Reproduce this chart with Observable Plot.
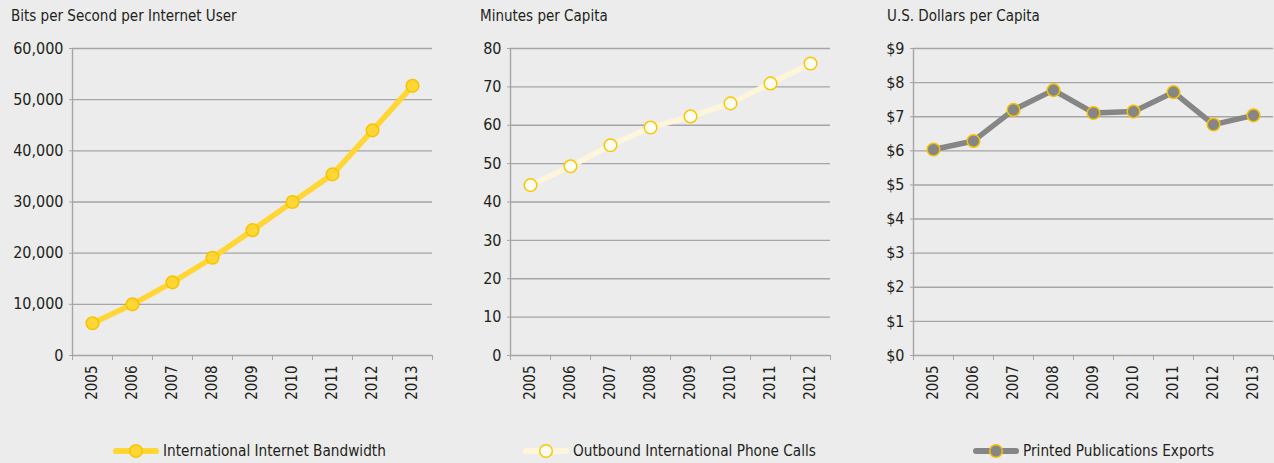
<!DOCTYPE html>
<html>
<head>
<meta charset="utf-8">
<script src="https://cdn.jsdelivr.net/npm/d3@7"></script>
<script src="https://cdn.jsdelivr.net/npm/@observablehq/plot@0.6"></script>
<style>
  html, body { margin: 0; padding: 0; background: #ebeceb; }
  body { width: 1274px; height: 463px; position: relative; overflow: hidden;
         font-family: "DejaVu Sans Condensed", "DejaVu Sans", sans-serif; color: #231f20; }
  .panel { position: absolute; top: 0; }
  .title { position: absolute; top: 7px; font-size: 15px; white-space: nowrap; }
  .legend { position: absolute; top: 440px; display: flex; align-items: center; font-size: 15.2px; white-space: nowrap; }
  .legend svg { margin-right: 4px; }
</style>
</head>
<body>
<script>
// ---- data ----
const yearsA = [2005, 2006, 2007, 2008, 2009, 2010, 2011, 2012, 2013];
const bandwidth = [6300, 10000, 14300, 19100, 24500, 30000, 35400, 44000, 52700];
const bandwidthTicks = [0, 10000, 20000, 30000, 40000, 50000, 60000];

const yearsB = [2005, 2006, 2007, 2008, 2009, 2010, 2011, 2012];
const phoneCalls = [44.4, 49.3, 54.8, 59.4, 62.3, 65.7, 70.9, 76.1];
const phoneTicks = [0, 10, 20, 30, 40, 50, 60, 70, 80];

const yearsC = [2005, 2006, 2007, 2008, 2009, 2010, 2011, 2012, 2013];
const printExports = [6.04, 6.29, 7.20, 7.78, 7.11, 7.15, 7.72, 6.77, 7.04];
const exportTicks = [0, 1, 2, 3, 4, 5, 6, 7, 8, 9];

const titles = ["Bits per Second per Internet User", "Minutes per Capita", "U.S. Dollars per Capita"];
const seriesNames = ["International Internet Bandwidth", "Outbound International Phone Calls", "Printed Publications Exports"];

const GRID = "#a5a5a5";
const TEXT = "#231f20";

function panel({left, width, marginLeft, years, values, yTicks, yFormat, lineColor, dotFill, dotStroke}) {
  const data = years.map((y, i) => ({year: y, value: values[i]}));
  const bounds = d3.range(years.length + 1).map(i => years[0] - 0.5 + i);
  const chart = Plot.plot({
    width, height: 410,
    marginLeft, marginRight: width - marginLeft - years.length * 40,
    marginTop: 48, marginBottom: 55,
    style: {background: "transparent", fontFamily: "'DejaVu Sans Condensed', 'DejaVu Sans', sans-serif", color: TEXT, overflow: "visible"},
    x: {type: "linear", domain: [bounds[0], bounds[bounds.length - 1]]},
    y: {domain: [yTicks[0], yTicks[yTicks.length - 1]]},
    marks: [
      Plot.ruleY(yTicks, {stroke: GRID, strokeWidth: 1.4}),
      Plot.ruleX([bounds[0]], {stroke: GRID, strokeWidth: 1.4}),
      Plot.axisY(yTicks, {tickSize: 3, tickPadding: 6, stroke: GRID, fill: TEXT, fontSize: 16, tickFormat: yFormat, label: null}),
      Plot.axisX(bounds, {tickSize: 5, stroke: GRID, tickFormat: () => "", label: null}),
      Plot.axisX(years, {tickSize: 0, tickPadding: 10, tickRotate: -90, fill: TEXT, fontSize: 15, tickFormat: d => String(d), label: null}),
      Plot.line(data, {x: "year", y: "value", stroke: lineColor, strokeWidth: 5.5, strokeLinejoin: "round", strokeLinecap: "round"}),
      Plot.dot(data, {x: "year", y: "value", r: 6.3, fill: dotFill, stroke: dotStroke, strokeWidth: 1.5})
    ]
  });
  chart.classList.add("panel");
  chart.style.left = left + "px";
  return chart;
}

const specs = [
  {left: 0, width: 440, marginLeft: 72, years: yearsA, values: bandwidth, yTicks: bandwidthTicks,
   yFormat: d3.format(","), lineColor: "#ffd633", dotFill: "#ffd633", dotStroke: "#f5c400",
   titleX: 11, legendX: 113},
  {left: 440, width: 400, marginLeft: 70, years: yearsB, values: phoneCalls, yTicks: phoneTicks,
   yFormat: d => String(d), lineColor: "#fdf6dc", dotFill: "#fffdf4", dotStroke: "#f7c800",
   titleX: 480, legendX: 523},
  {left: 840, width: 434, marginLeft: 73, years: yearsC, values: printExports, yTicks: exportTicks,
   yFormat: d => "$" + d, lineColor: "#868686", dotFill: "#868686", dotStroke: "#f2c200",
   titleX: 887, legendX: 973}
];

specs.forEach((s, i) => {
  document.body.appendChild(panel(s));
  const t = document.createElement("div");
  t.className = "title";
  t.style.left = s.titleX + "px";
  t.textContent = titles[i];
  document.body.appendChild(t);

  const lg = document.createElement("div");
  lg.className = "legend";
  lg.style.left = s.legendX + "px";
  lg.innerHTML = `<svg width="46" height="22"><line x1="3" y1="11" x2="43" y2="11" stroke="${s.lineColor}" stroke-width="6" stroke-linecap="round"/><circle cx="23" cy="11" r="6.3" fill="${s.dotFill}" stroke="${s.dotStroke}" stroke-width="1.5"/></svg>`;
  const span = document.createElement("span");
  span.textContent = seriesNames[i];
  lg.appendChild(span);
  document.body.appendChild(lg);
});
</script>
</body>
</html>
